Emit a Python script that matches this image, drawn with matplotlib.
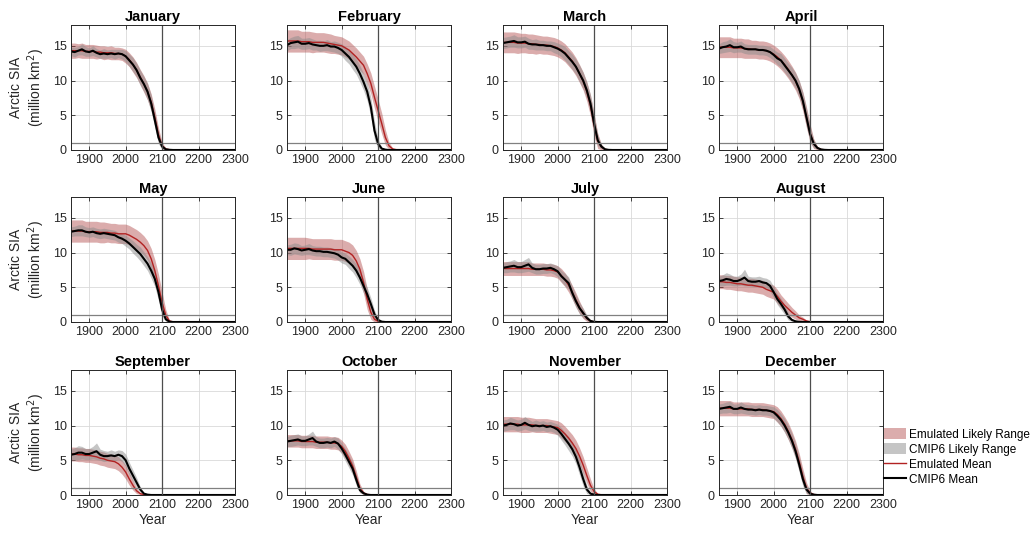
import matplotlib
matplotlib.use("Agg")
from matplotlib import pyplot as plt
from matplotlib.patches import Patch
from matplotlib.lines import Line2D

plt.rcParams["font.family"] = ["Liberation Sans", "DejaVu Sans"]

months = ["January", "February", "March", "April", "May", "June",
          "July", "August", "September", "October", "November", "December"]

# decadal readings 1850..2150, then the end of the run in 2300
years = [1850, 1860, 1870, 1880, 1890, 1900, 1910, 1920, 1930, 1940,
         1950, 1960, 1970, 1980, 1990, 2000, 2010, 2020, 2030, 2040,
         2050, 2060, 2070, 2080, 2090, 2100, 2110, 2120, 2130, 2140,
         2150, 2300]

# CMIP6 multi-model mean (million km^2), one row per month
cmip6_mean = [
    [14.2,14.1,14.3,14.5,14.2,14.1,14.3,14.0,13.8,13.9, 13.8,13.9,13.8,13.9,13.8,13.5,12.9,12.3,11.5,10.4, 9.5,8.4,6.7,4.3,1.8,0.5,0.1,0.03,0,0, 0,0],
    [15.1,15.4,15.5,15.6,15.3,15.3,15.4,15.2,15.1,15.0, 15.0,15.1,14.9,14.9,14.7,14.4,13.9,13.4,12.7,12.0, 11.0,9.8,8.4,6.2,2.8,0.9,0.2,0.05,0,0, 0,0],
    [15.4,15.5,15.6,15.7,15.5,15.5,15.6,15.3,15.2,15.2, 15.1,15.1,15.0,15.0,14.8,14.6,14.3,13.9,13.3,12.7, 12.0,11.0,10.0,8.6,6.7,3.8,1.4,0.5,0.1,0.02, 0,0],
    [14.6,14.8,14.9,15.1,14.8,14.8,14.9,14.6,14.5,14.5, 14.5,14.4,14.4,14.3,14.1,13.7,13.2,12.9,12.2,11.5, 10.8,10.0,8.8,7.1,4.7,2.3,0.9,0.3,0.08,0.02, 0,0],
    [13.0,13.1,13.2,13.2,13.0,12.9,13.0,12.8,12.7,12.8, 12.7,12.6,12.5,12.2,12.0,11.7,11.3,10.8,10.3,9.8, 9.1,8.4,7.4,6.2,4.3,1.8,0.4,0.05,0,0, 0,0],
    [10.4,10.4,10.6,10.5,10.3,10.4,10.5,10.3,10.2,10.2, 10.1,10.1,10.0,9.9,9.7,9.3,9.1,8.6,8.1,7.4, 6.4,5.2,4.0,2.6,1.1,0.3,0.05,0,0,0, 0,0],
    [7.8,7.9,8.0,8.1,7.9,7.9,8.1,8.3,7.8,7.6, 7.6,7.7,7.7,7.8,7.6,7.3,6.6,6.1,5.6,4.2, 3.0,2.0,1.3,0.6,0.15,0.03,0,0,0,0, 0,0],
    [5.9,6.0,6.2,6.1,5.9,5.9,6.1,6.4,5.9,5.8, 5.8,5.9,5.7,5.6,5.2,4.3,3.3,2.6,1.8,0.8, 0.3,0.1,0.02,0,0,0,0,0,0,0, 0,0],
    [5.8,5.9,6.1,6.1,5.9,5.9,6.1,6.3,5.8,5.6, 5.6,5.7,5.6,5.8,5.6,5.0,3.8,2.8,1.8,0.8, 0.2,0.05,0,0,0,0,0,0,0,0, 0,0],
    [7.7,7.8,7.9,8.0,7.8,7.8,8.0,8.2,7.7,7.5, 7.5,7.6,7.5,7.7,7.4,6.7,5.8,4.8,3.8,2.2, 0.7,0.25,0.05,0,0,0,0,0,0,0, 0,0],
    [10.0,10.1,10.3,10.2,10.0,10.1,10.4,10.1,9.9,10.0, 9.9,10.0,9.8,9.9,9.7,9.4,8.8,8.1,7.4,6.6, 5.5,4.0,2.3,0.8,0.2,0.05,0,0,0,0, 0,0],
    [12.4,12.5,12.6,12.7,12.4,12.4,12.6,12.4,12.3,12.3, 12.2,12.3,12.2,12.2,12.1,11.9,11.4,10.8,10.0,9.0, 7.8,6.3,4.4,2.3,0.8,0.2,0.05,0,0,0, 0,0],
]

# emulated mean
emu_mean = [
    [14.3,14.3,14.3,14.3,14.2,14.2,14.2,14.1,14.1,14.0, 14.0,14.0,13.9,13.9,13.8,13.5,13.0,12.3,11.5,10.5, 9.5,8.4,6.9,4.7,2.2,0.6,0.15,0.05,0.01,0, 0,0],
    [15.7,15.7,15.7,15.7,15.6,15.6,15.6,15.5,15.5,15.5, 15.5,15.4,15.3,15.2,15.1,15.0,14.7,14.4,13.9,13.4, 12.8,12.2,11.0,9.6,7.6,5.7,3.8,1.8,0.6,0.15, 0.05,0],
    [15.5,15.5,15.5,15.5,15.4,15.4,15.4,15.3,15.3,15.2, 15.2,15.1,15.1,15.0,14.9,14.7,14.4,14.0,13.4,12.8, 12.0,11.0,9.9,8.4,6.4,3.6,1.3,0.45,0.1,0.02, 0,0],
    [14.8,14.8,14.8,14.8,14.7,14.7,14.7,14.6,14.6,14.5, 14.5,14.4,14.4,14.3,14.1,13.8,13.4,12.9,12.3,11.6, 10.8,9.9,8.7,7.0,4.7,2.4,0.9,0.3,0.08,0.02, 0,0],
    [13.1,13.1,13.1,13.1,13.0,13.0,13.0,13.0,12.9,12.9, 12.9,12.8,12.8,12.7,12.7,12.7,12.5,12.2,11.9,11.5, 11.0,10.3,9.1,7.4,5.2,2.8,1.0,0.15,0.02,0, 0,0],
    [10.6,10.6,10.6,10.6,10.6,10.6,10.6,10.5,10.5,10.5, 10.5,10.5,10.5,10.4,10.4,10.4,10.2,10.0,9.6,8.8, 7.6,5.7,3.3,1.4,0.4,0.1,0.02,0,0,0, 0,0],
    [7.7,7.7,7.7,7.7,7.7,7.7,7.7,7.7,7.6,7.6, 7.6,7.6,7.5,7.5,7.4,7.2,6.7,6.1,5.3,4.3, 3.2,2.1,1.2,0.5,0.15,0.03,0,0,0,0, 0,0],
    [5.8,5.8,5.7,5.7,5.6,5.5,5.5,5.4,5.3,5.3, 5.2,5.1,5.0,4.7,4.5,4.3,3.7,3.0,2.4,1.9, 1.4,1.0,0.6,0.4,0.15,0.05,0.01,0,0,0, 0,0],
    [5.9,5.9,5.8,5.8,5.7,5.7,5.6,5.5,5.3,5.2, 5.0,4.9,4.8,4.5,4.0,3.3,2.3,1.4,0.6,0.2, 0.05,0.01,0,0,0,0,0,0,0,0, 0,0],
    [7.8,7.8,7.8,7.8,7.7,7.7,7.7,7.7,7.6,7.6, 7.6,7.6,7.5,7.5,7.4,7.0,6.3,5.3,4.2,2.6, 1.0,0.3,0.08,0.02,0,0,0,0,0,0, 0,0],
    [10.2,10.2,10.2,10.2,10.2,10.1,10.1,10.1,10.1,10.0, 10.0,10.0,10.0,9.9,9.8,9.7,9.3,8.8,8.2,7.5, 6.7,5.6,4.3,2.8,1.4,0.5,0.12,0.03,0,0, 0,0],
    [12.5,12.5,12.5,12.5,12.4,12.4,12.4,12.4,12.4,12.3, 12.3,12.3,12.3,12.2,12.1,12.0,11.6,11.0,10.2,9.2, 8.0,6.6,4.8,2.7,1.0,0.3,0.07,0.02,0,0, 0,0],
]

# half-width of the CMIP6 likely range
cmip6_spread = [
    [0.6,0.7,0.6,0.8,0.7,0.6,0.7,0.6,0.6,0.7, 0.6,0.6,0.7,0.6,0.7,0.8,0.9,1.0,1.0,1.1, 1.1,1.2,1.2,1.1,0.9,0.4,0.1,0.03,0,0, 0,0],
    [0.8,0.8,0.9,0.9,0.8,0.8,0.8,0.8,0.7,0.8, 0.7,0.8,0.7,0.8,0.8,0.9,1.0,1.0,1.1,1.1, 1.2,1.2,1.3,1.4,1.3,0.7,0.2,0.05,0,0, 0,0],
    [0.8,0.8,0.8,0.9,0.8,0.8,0.8,0.8,0.7,0.8, 0.7,0.7,0.7,0.7,0.8,0.8,0.9,1.0,1.0,1.1, 1.1,1.2,1.2,1.2,1.3,1.3,0.8,0.3,0.08,0.02, 0,0],
    [0.7,0.8,0.8,0.9,0.8,0.7,0.8,0.7,0.7,0.7, 0.7,0.7,0.7,0.7,0.8,0.8,0.9,1.0,1.0,1.0, 1.1,1.1,1.2,1.2,1.3,1.1,0.6,0.2,0.06,0.02, 0,0],
    [0.7,0.7,0.8,0.8,0.7,0.7,0.7,0.7,0.7,0.7, 0.7,0.7,0.7,0.7,0.7,0.8,0.8,0.9,0.9,1.0, 1.0,1.0,1.1,1.1,1.2,1.0,0.3,0.05,0,0, 0,0],
    [0.7,0.8,0.8,0.8,0.7,0.7,0.8,0.7,0.7,0.7, 0.7,0.7,0.7,0.7,0.8,0.8,0.8,0.9,0.9,1.0, 1.0,1.0,1.0,0.9,0.6,0.2,0.04,0,0,0, 0,0],
    [0.7,0.8,0.8,0.9,0.8,0.8,0.9,1.0,0.7,0.7, 0.7,0.7,0.7,0.7,0.7,0.8,0.8,0.9,0.9,0.9, 0.9,0.8,0.7,0.4,0.12,0.03,0,0,0,0, 0,0],
    [0.7,0.8,0.9,0.8,0.7,0.7,0.8,1.2,0.7,0.7, 0.7,0.7,0.7,0.7,0.8,0.8,0.8,0.8,0.7,0.5, 0.2,0.07,0.02,0,0,0,0,0,0,0, 0,0],
    [0.8,0.9,1.0,0.9,0.8,0.8,0.9,1.2,0.8,0.8, 0.7,0.8,0.7,0.7,0.8,0.9,0.9,0.8,0.7,0.4, 0.15,0.04,0,0,0,0,0,0,0,0, 0,0],
    [0.7,0.8,0.8,0.8,0.7,0.7,0.8,1.0,0.7,0.7, 0.7,0.7,0.7,0.7,0.8,0.8,0.9,0.9,0.9,0.8, 0.4,0.15,0.04,0,0,0,0,0,0,0, 0,0],
    [0.8,0.8,0.9,0.8,0.8,0.8,0.9,0.8,0.7,0.8, 0.7,0.7,0.7,0.7,0.7,0.8,0.9,0.9,1.0,1.0, 1.0,1.1,1.0,0.6,0.15,0.04,0,0,0,0, 0,0],
    [0.7,0.7,0.8,0.8,0.7,0.7,0.8,0.7,0.7,0.7, 0.7,0.7,0.7,0.7,0.7,0.8,0.9,0.9,1.0,1.0, 1.1,1.1,1.1,1.0,0.6,0.15,0.04,0,0,0, 0,0],
]

# half-width of the emulated likely range
emu_spread = [
    [1.1,1.1,1.0,1.1,1.0,1.0,1.0,1.0,0.9,1.0, 0.9,1.0,0.9,0.9,0.9,1.0,1.0,1.1,1.1,1.1, 1.2,1.2,1.2,1.2,1.0,0.5,0.15,0.05,0.01,0, 0,0],
    [1.6,1.6,1.6,1.6,1.5,1.5,1.5,1.5,1.4,1.4, 1.4,1.4,1.4,1.3,1.3,1.3,1.3,1.3,1.3,1.3, 1.3,1.3,1.4,1.5,1.6,1.6,1.5,1.1,0.5,0.15, 0.05,0],
    [1.5,1.5,1.5,1.5,1.5,1.4,1.4,1.4,1.4,1.4, 1.3,1.3,1.3,1.3,1.3,1.3,1.3,1.3,1.3,1.3, 1.3,1.3,1.3,1.4,1.5,1.6,1.1,0.4,0.1,0.02, 0,0],
    [1.5,1.5,1.5,1.5,1.4,1.4,1.4,1.4,1.4,1.3, 1.3,1.3,1.3,1.3,1.3,1.3,1.3,1.3,1.3,1.3, 1.3,1.3,1.3,1.4,1.5,1.3,0.7,0.25,0.07,0.02, 0,0],
    [1.6,1.6,1.6,1.6,1.5,1.5,1.5,1.5,1.5,1.5, 1.4,1.4,1.4,1.4,1.4,1.4,1.4,1.4,1.4,1.4, 1.4,1.4,1.5,1.6,1.7,1.5,0.8,0.15,0.02,0, 0,0],
    [1.6,1.6,1.6,1.6,1.6,1.6,1.5,1.5,1.5,1.5, 1.5,1.5,1.5,1.5,1.5,1.5,1.5,1.5,1.5,1.5, 1.5,1.6,1.5,1.0,0.4,0.1,0.02,0,0,0, 0,0],
    [1.0,1.0,1.0,1.0,1.0,1.0,1.0,1.0,0.9,0.9, 0.9,0.9,0.9,0.9,0.9,0.9,1.0,1.0,1.0,1.0, 1.0,0.9,0.7,0.4,0.12,0.03,0,0,0,0, 0,0],
    [1.0,1.0,1.0,1.0,1.0,1.0,1.0,1.0,1.0,1.0, 1.0,1.0,1.0,1.0,1.0,1.0,1.0,0.9,0.9,0.8, 0.7,0.6,0.4,0.3,0.12,0.04,0.01,0,0,0, 0,0],
    [1.0,1.0,1.0,1.0,1.0,1.0,1.0,1.0,1.0,1.0, 1.0,1.0,1.0,1.0,1.0,1.0,0.9,0.7,0.4,0.15, 0.04,0.01,0,0,0,0,0,0,0,0, 0,0],
    [0.9,0.9,0.9,0.9,0.9,0.9,0.9,0.9,0.9,0.9, 0.9,0.9,0.9,0.9,0.9,0.9,1.0,1.0,1.0,0.9, 0.6,0.25,0.07,0.02,0,0,0,0,0,0, 0,0],
    [1.1,1.1,1.1,1.1,1.1,1.1,1.1,1.1,1.0,1.0, 1.0,1.0,1.0,1.0,1.0,1.0,1.1,1.1,1.1,1.2, 1.2,1.2,1.2,1.1,0.9,0.4,0.1,0.03,0,0, 0,0],
    [1.1,1.1,1.1,1.1,1.0,1.0,1.0,1.0,1.0,1.0, 1.0,1.0,1.0,1.0,1.0,1.0,1.1,1.1,1.1,1.2, 1.2,1.2,1.2,1.1,0.8,0.3,0.07,0.02,0,0, 0,0],
]

emu_band_color = "#b04848"
cmip_band_color = "#8c8c8c"
emu_line_color = "#b22222"
text_color = "#262626"

fig = plt.figure(figsize=(10.34, 5.35), dpi=100)

col_left = [71, 287, 503, 719]
row_top = [25, 197, 370]
ax_w, ax_h = 164, 125

for m, name in enumerate(months):
    row, col = divmod(m, 4)
    ax = fig.add_axes([col_left[col] / 1034, (535 - row_top[row] - ax_h) / 535,
                       ax_w / 1034, ax_h / 535])

    e_lo = [max(v - s, 0) for v, s in zip(emu_mean[m], emu_spread[m])]
    e_hi = [v + s for v, s in zip(emu_mean[m], emu_spread[m])]
    c_lo = [max(v - s, 0) for v, s in zip(cmip6_mean[m], cmip6_spread[m])]
    c_hi = [v + s for v, s in zip(cmip6_mean[m], cmip6_spread[m])]

    ax.fill_between(years, e_lo, e_hi, color=emu_band_color, alpha=0.45, lw=0)
    ax.fill_between(years, c_lo, c_hi, color=cmip_band_color, alpha=0.5, lw=0)
    ax.plot(years, emu_mean[m], color=emu_line_color, lw=1.0)
    ax.plot(years, cmip6_mean[m], color="black", lw=1.5)

    # reference lines: 1 million km^2 and year 2100
    ax.axhline(1, color="#808080", lw=0.9)
    ax.axvline(2100, color="#4d4d4d", lw=0.9)

    ax.set_xlim(1850, 2300)
    ax.set_ylim(0, 18)
    ax.set_xticks([1900, 2000, 2100, 2200, 2300])
    ax.set_yticks([0, 5, 10, 15])
    ax.grid(True, color="#d9d9d9", lw=0.6)
    ax.set_axisbelow(True)
    ax.tick_params(direction="in", top=True, right=True, length=3, width=0.6,
                   labelsize=9, colors=text_color, pad=3)
    for sp in ax.spines.values():
        sp.set_linewidth(0.7)
        sp.set_color(text_color)

    ax.set_title(name, fontsize=10.5, fontweight="bold", pad=3)
    if col == 0:
        ax.set_ylabel("Arctic SIA\n(million km$^2$)", fontsize=10, color=text_color,
                      labelpad=4)
    if row == 2:
        ax.set_xlabel("Year", fontsize=10, color=text_color, labelpad=1)

handles = [
    Patch(facecolor=emu_band_color, alpha=0.45, edgecolor="none"),
    Patch(facecolor=cmip_band_color, alpha=0.5, edgecolor="none"),
    Line2D([], [], color=emu_line_color, lw=1.0),
    Line2D([], [], color="black", lw=1.5),
]
labels = ["Emulated Likely Range", "CMIP6 Likely Range", "Emulated Mean", "CMIP6 Mean"]
fig.legend(handles, labels, loc="upper left", bbox_to_anchor=(884 / 1034, 1 - 428 / 535),
           frameon=False, fontsize=8.5, handlelength=1.9, handleheight=1.1,
           handletextpad=0.2, labelspacing=0.2, borderaxespad=0, borderpad=0)

fig.savefig("out.png", dpi=100)
